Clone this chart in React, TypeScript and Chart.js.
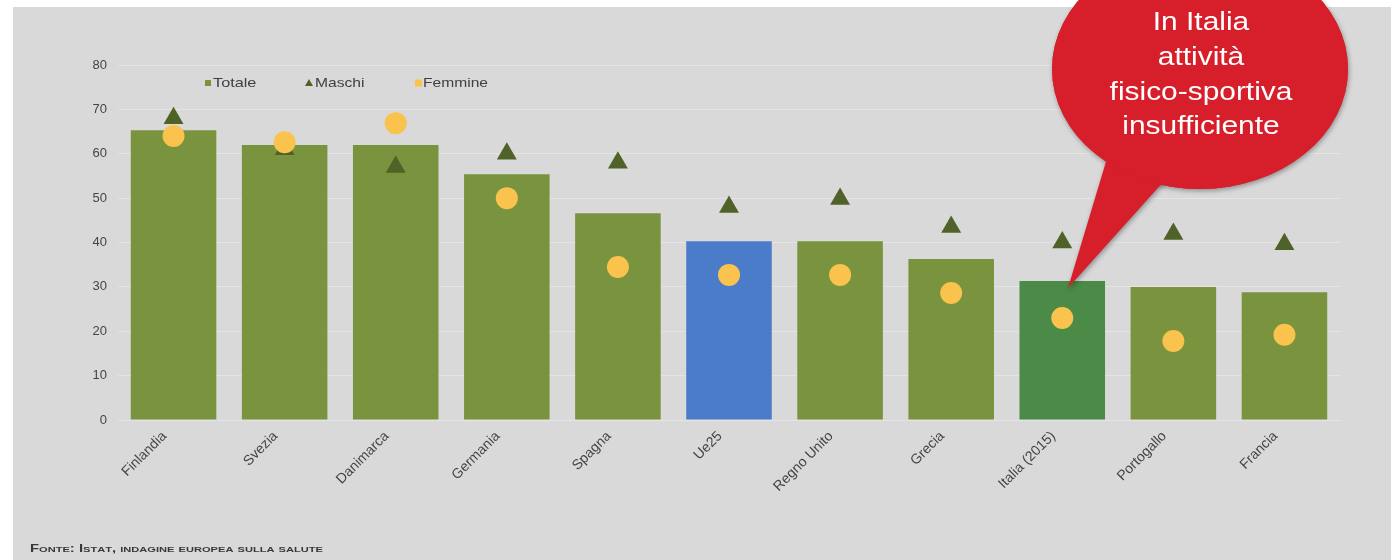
import React, { useEffect, useRef } from "react";
import { Chart, registerables } from "chart.js";

Chart.register(...registerables);

const categories = [
  "Finlandia",
  "Svezia",
  "Danimarca",
  "Germania",
  "Spagna",
  "Ue25",
  "Regno Unito",
  "Grecia",
  "Italia (2015)",
  "Portogallo",
  "Francia",
];
const totale = [65.3, 62, 62, 55.4, 46.6, 40.3, 40.3, 36.3, 31.3, 30, 28.8];
const maschi = [68, 61, 57, 60, 58, 48, 49.8, 43.5, 40, 41.9, 39.6];
const femmine = [64, 62.6, 66.9, 50, 34.5, 32.7, 32.7, 28.6, 23, 17.8, 19.2];
const yTicks = [0, 10, 20, 30, 40, 50, 60, 70, 80];
const bubbleLines = ["In Italia", "attività", "fisico-sportiva", "insufficiente"];
const sourceText = "Fonte: Istat, indagine europea sulla salute";

const GREEN = "#79933e";
const BLUE = "#4a7cc9";
const ITALY = "#4b8a47";
const TRI = "#4f6228";
const DOT = "#f9c34d";
const FONT = "'Liberation Sans', Arial, sans-serif";

const barColors = categories.map((c) =>
  c === "Ue25" ? BLUE : c.startsWith("Italia") ? ITALY : GREEN
);

function drawSmallCaps(ctx: any, text: string, x: number, y: number, big: number, small: number, targetW: number) {
  const parts: { t: string; s: number }[] = [];
  for (const ch of text) {
    const isLower = ch !== ch.toUpperCase();
    parts.push({ t: ch.toUpperCase(), s: isLower ? small : big });
  }
  let total = 0;
  for (const p of parts) {
    ctx.font = `bold ${p.s}px ${FONT}`;
    total += ctx.measureText(p.t).width;
  }
  const sx = targetW / total;
  ctx.save();
  ctx.translate(x, y);
  ctx.scale(sx, 1);
  let cx = 0;
  for (const p of parts) {
    ctx.font = `bold ${p.s}px ${FONT}`;
    ctx.fillText(p.t, cx, 0);
    cx += ctx.measureText(p.t).width;
  }
  ctx.restore();
}

const decorPlugin = {
  id: "decor",
  beforeDraw(chart: any) {
    const { ctx, width, height } = chart;
    ctx.save();
    ctx.fillStyle = "#ffffff";
    ctx.fillRect(0, 0, width, height);
    ctx.fillStyle = "#d9d9d9";
    ctx.fillRect(13, 7, width - 13, height - 7);
    ctx.restore();
  },
  afterDraw(chart: any) {
    const { ctx } = chart;
    // legend
    ctx.save();
    ctx.font = `13px ${FONT}`;
    ctx.fillStyle = "#404040";
    ctx.textBaseline = "middle";
    const drawStretched = (t: string, x: number, y: number, sx: number) => {
      ctx.save();
      ctx.translate(x, y);
      ctx.scale(sx, 1);
      ctx.fillText(t, 0, 0);
      ctx.restore();
    };
    const ly = 83;
    ctx.fillStyle = GREEN;
    ctx.fillRect(205, ly - 3, 6, 6);
    ctx.fillStyle = "#404040";
    drawStretched(chart.data.datasets[0].label, 213, ly, 1.25);
    ctx.fillStyle = TRI;
    ctx.beginPath();
    ctx.moveTo(309, ly - 4);
    ctx.lineTo(313, ly + 3);
    ctx.lineTo(305, ly + 3);
    ctx.closePath();
    ctx.fill();
    ctx.fillStyle = "#404040";
    drawStretched(chart.data.datasets[1].label, 315, ly, 1.2);
    ctx.fillStyle = DOT;
    ctx.fillRect(415, ly - 3.5, 7, 7);
    ctx.fillStyle = "#404040";
    drawStretched(chart.data.datasets[2].label, 423, ly, 1.2);
    ctx.restore();

    // source
    ctx.save();
    ctx.fillStyle = "#383838";
    ctx.textBaseline = "alphabetic";
    drawSmallCaps(ctx, sourceText, 30, 552, 10, 7.5, 293);
    ctx.restore();

    // speech bubble
    ctx.save();
    ctx.shadowColor = "rgba(0,0,0,0.35)";
    ctx.shadowBlur = 5;
    ctx.shadowOffsetX = 1;
    ctx.shadowOffsetY = 2;
    ctx.fillStyle = "#d61f2b";
    ctx.beginPath();
    ctx.ellipse(1200, 69, 148, 120, 0, 0, Math.PI * 2);
    ctx.fill();
    ctx.beginPath();
    ctx.moveTo(1108, 155);
    ctx.lineTo(1165, 180);
    ctx.lineTo(1068, 288);
    ctx.closePath();
    ctx.fill();
    ctx.shadowColor = "transparent";
    ctx.beginPath();
    ctx.ellipse(1200, 69, 148, 120, 0, 0, Math.PI * 2);
    ctx.fill();
    ctx.fillStyle = "#ffffff";
    ctx.font = `26px ${FONT}`;
    ctx.textAlign = "center";
    ctx.textBaseline = "middle";
    const ys = [23, 58, 93, 127];
    bubbleLines.forEach((t, i) => {
      ctx.save();
      ctx.translate(1201, ys[i]);
      ctx.scale(1.15, 1);
      ctx.fillText(t, 0, 0);
      ctx.restore();
    });
    ctx.restore();
  },
};

export default function App() {
  const ref = useRef<HTMLCanvasElement | null>(null);
  useEffect(() => {
    if (!ref.current) return;
    const chart = new Chart(ref.current, {
      type: "bar",
      data: {
        labels: categories,
        datasets: [
          {
            type: "bar",
            label: "Totale",
            data: totale,
            backgroundColor: barColors,
            borderWidth: 0,
            categoryPercentage: 1,
            barPercentage: 0.77,
            order: 3,
          } as any,
          {
            type: "line",
            label: "Maschi",
            data: maschi,
            showLine: false,
            pointStyle: "triangle",
            pointRadius: 11.5,
            pointBackgroundColor: TRI,
            pointBorderWidth: 0,
            borderColor: TRI,
            order: 2,
          } as any,
          {
            type: "line",
            label: "Femmine",
            data: femmine,
            showLine: false,
            pointStyle: "circle",
            pointRadius: 11,
            pointBackgroundColor: DOT,
            pointBorderWidth: 0,
            borderColor: DOT,
            order: 1,
          } as any,
        ],
      },
      options: {
        responsive: false,
        animation: false,
        devicePixelRatio: 1,
        layout: { padding: { left: 78, right: 51, top: 65, bottom: 0 } },
        plugins: {
          legend: { display: false },
          tooltip: { enabled: false },
        },
        scales: {
          x: {
            grid: { display: false, drawTicks: false },
            border: { display: false },
            ticks: {
              minRotation: 45,
              maxRotation: 45,
              padding: 8,
              labelOffset: -9,
              color: "#454545",
              font: { family: FONT, size: 14 },
            },
            afterFit: (s: any) => {
              s.height = 140;
            },
          },
          y: {
            min: 0,
            max: 80,
            afterBuildTicks: (s: any) => {
              s.ticks = yTicks.map((v) => ({ value: v }));
            },
            grid: { color: "#e4e4e4", lineWidth: 1, drawTicks: false },
            border: { display: false },
            ticks: {
              padding: 11,
              color: "#454545",
              font: { family: FONT, size: 13 },
            },
            afterFit: (s: any) => {
              s.width = 40;
            },
          },
        },
      },
      plugins: [decorPlugin],
    });
    return () => chart.destroy();
  }, []);
  return (
    <div style={{ position: "absolute", left: 0, top: 0, width: 1391, height: 560 }}>
      <canvas ref={ref} width={1391} height={560} style={{ display: "block" }} />
    </div>
  );
}
